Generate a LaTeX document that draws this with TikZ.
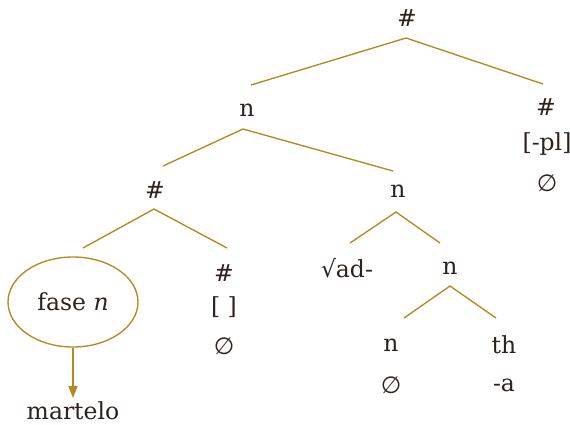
\documentclass[tikz,border=0pt]{standalone}
\usepackage{fontspec}
\setmainfont{DejaVu Serif}
\newfontfamily\symfont{DejaVu Sans}
\usetikzlibrary{arrows.meta,shapes.geometric}
\definecolor{ink}{RGB}{45,34,30}
\definecolor{branch}{RGB}{181,137,32}
\newcommand{\nullset}{{\symfont ∅}}
\begin{document}
\begin{tikzpicture}[x=1pt,y=-1pt,
  lab/.style={text=ink,font=\fontsize{23.5}{26}\selectfont,inner sep=0pt,anchor=center},
  edge/.style={draw=branch,line width=1.35pt},
  phase/.style={draw=branch,line width=1.35pt,ellipse,minimum width=130pt,minimum height=90pt,inner sep=0pt}]
\useasboundingbox (0,0) rectangle (570,424);

% labels
\node[lab] (top) at (407,18) {\#};
\node[lab] (n1) at (247,110) {n};
\node[lab] (h1) at (546,107) {\#};
\node[lab] (pl) at (547,144) {[-pl]};
\node[lab] (z1) at (547,183) {\nullset};
\node[lab] (h2) at (155,190) {\#};
\node[lab] (n2) at (398,191) {n};
\node[phase] (fase) at (73,302) {};
\node[lab] at (fase.center) {fase \textit{n}};
\node[lab] (h3) at (224,273) {\#};
\node[lab] (br) at (224,307) {[ ]};
\node[lab] (z2) at (224,346) {\nullset};
\node[lab] (root) at (347,268) {√ad-};
\node[lab] (n3) at (450,268) {n};
\node[lab] (n4) at (391,345) {n};
\node[lab] (z3) at (391,385) {\nullset};
\node[lab] (th) at (504,345) {th};
\node[lab] (a) at (504,385) {-a};
\node[lab,anchor=base] (mart) at (73,419) {martelo};

% branch points
\coordinate (top-b) at (406,38);
\coordinate (n1-t) at (251,85);
\coordinate (h1-t) at (543,84);
\coordinate (n1-b) at (243,129);
\coordinate (h2-t) at (163,166);
\coordinate (n2-t) at (393,171);
\coordinate (h2-b) at (154,209);
\coordinate (fase-t) at (83,248);
\coordinate (h3-t) at (227,248);
\coordinate (n2-b) at (396,212);
\coordinate (root-t) at (350,243);
\coordinate (n3-t) at (440,243);
\coordinate (n3-b) at (450,286);
\coordinate (n4-t) at (404,318);
\coordinate (th-t) at (496,318);
\coordinate (mart-t) at (73,398);

% branches
\draw[edge] (n1-t) -- (top-b) -- (h1-t);
\draw[edge] (h2-t) -- (n1-b) -- (n2-t);
\draw[edge] (fase-t) -- (h2-b) -- (h3-t);
\draw[edge] (root-t) -- (n2-b) -- (n3-t);
\draw[edge] (n4-t) -- (n3-b) -- (th-t);
\draw[edge,-{Triangle[length=12pt,width=9pt]}] (fase.south) -- (mart-t);
\end{tikzpicture}
\end{document}
